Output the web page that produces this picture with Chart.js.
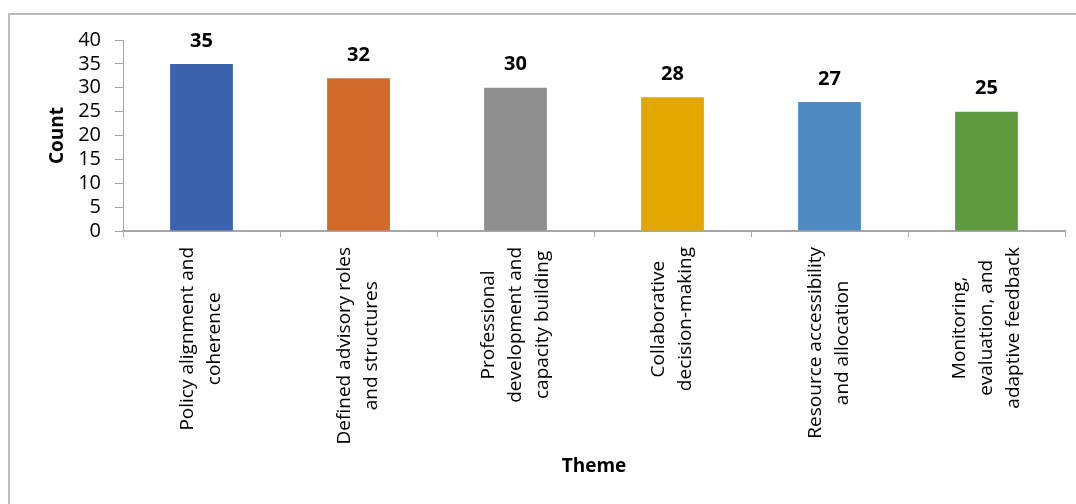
<!DOCTYPE html>
<html>
<head>
<meta charset="utf-8">
<script src="https://cdn.jsdelivr.net/npm/chart.js@4/dist/chart.umd.min.js"></script>
<style>
  html, body { margin: 0; padding: 0; background: #fff; }
  #wrap { position: relative; width: 1076px; height: 504px; overflow: hidden; }
  #frame {
    position: absolute; left: 8px; top: 13px; width: 1200px; height: 600px;
    border-top: 2px solid #bdbdbd; border-left: 2px solid #bdbdbd;
  }
  canvas { position: absolute; left: 0; top: 0; }
</style>
</head>
<body>
<div id="wrap">
  <div id="frame"></div>
  <canvas id="themeChart" width="1076" height="504"></canvas>
</div>
<script>
// Theme counts
const themes = [
  ["Policy alignment and", "coherence"],
  ["Defined advisory roles", "and structures"],
  ["Professional", "development and", "capacity building"],
  ["Collaborative", "decision-making"],
  ["Resource accessibility", "and allocation"],
  ["Monitoring,", "evaluation, and", "adaptive feedback"],
];
const counts = [35, 32, 30, 28, 27, 25];
const barColors = ["#3b63ad", "#d26b2a", "#8f8f8f", "#e2a700", "#4f8ac3", "#609a3f"];
const yTicks = [0, 5, 10, 15, 20, 25, 30, 35, 40];

const FONT = "'Open Sans', sans-serif";
const AXIS_GREY = "#a6a6a6";

// Count printed above each bar
const valueLabels = {
  id: "valueLabels",
  afterDatasetsDraw(chart) {
    const ctx = chart.ctx;
    const meta = chart.getDatasetMeta(0);
    ctx.save();
    ctx.font = "bold 20px " + FONT;
    ctx.fillStyle = "#000";
    ctx.textAlign = "center";
    ctx.textBaseline = "middle";
    meta.data.forEach((bar, i) => {
      ctx.fillText(String(chart.data.datasets[0].data[i]), bar.x, bar.y - 23);
    });
    ctx.restore();
  },
};

// Vertical category labels, lines centred on each other
const themeLabels = {
  id: "themeLabels",
  afterDraw(chart) {
    const ctx = chart.ctx;
    const xs = chart.scales.x;
    const top = xs.top + 16;
    const lineH = 27;
    ctx.save();
    ctx.font = "19px " + FONT;
    ctx.fillStyle = "#000";
    ctx.textAlign = "center";
    ctx.textBaseline = "middle";
    themes.forEach((lines, i) => {
      const px = xs.getPixelForValue(i);
      const maxW = Math.max(...lines.map((l) => ctx.measureText(l).width));
      ctx.save();
      ctx.translate(px, top);
      ctx.rotate(-Math.PI / 2);
      lines.forEach((l, j) => {
        const off = (j - (lines.length - 1) / 2) * lineH;
        ctx.fillText(l, -maxW / 2, off);
      });
      ctx.restore();
    });
    ctx.restore();
  },
};

new Chart(document.getElementById("themeChart").getContext("2d"), {
  type: "bar",
  data: {
    labels: themes,
    datasets: [
      {
        label: "Count",
        data: counts,
        backgroundColor: barColors,
        borderWidth: 0,
        barPercentage: 0.4,
        categoryPercentage: 1,
      },
    ],
  },
  options: {
    responsive: false,
    animation: false,
    layout: { padding: { top: 40, right: 11, bottom: 0, left: 0 } },
    plugins: {
      legend: { display: false },
      tooltip: { enabled: false },
    },
    scales: {
      x: {
        grid: {
          offset: true,
          drawOnChartArea: false,
          drawTicks: true,
          tickLength: 6,
          color: AXIS_GREY,
        },
        border: { display: true, color: AXIS_GREY, width: 2 },
        ticks: { display: false },
        title: {
          display: true,
          text: "Theme",
          color: "#000",
          font: { family: FONT, size: 19, weight: "bold" },
          padding: { top: 0, bottom: 26 },
        },
        afterFit(scale) {
          scale.height = 273;
        },
      },
      y: {
        min: 0,
        max: 40,
        afterBuildTicks(scale) {
          scale.ticks = yTicks.map((v) => ({ value: v }));
        },
        grid: {
          drawOnChartArea: false,
          drawTicks: true,
          tickLength: 8,
          color: AXIS_GREY,
        },
        border: { display: true, color: AXIS_GREY, width: 1 },
        ticks: {
          autoSkip: false,
          padding: 14,
          color: "#000",
          font: { family: FONT, size: 20, lineHeight: 1 },
        },
        title: {
          display: true,
          text: "Count",
          color: "#000",
          font: { family: FONT, size: 19, weight: "bold" },
          padding: { top: 46, bottom: 0 },
        },
        afterFit(scale) {
          scale.width = 123;
        },
      },
    },
  },
  plugins: [valueLabels, themeLabels],
});
</script>
</body>
</html>
